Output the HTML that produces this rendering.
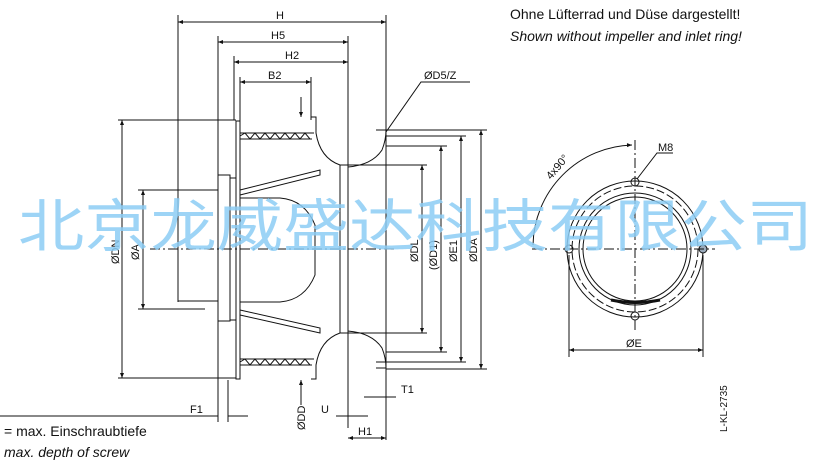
<!DOCTYPE html>
<html><head><meta charset="utf-8"><style>
body{margin:0;background:#fff;width:827px;height:464px;overflow:hidden}
svg{display:block}
text{font-family:"Liberation Sans","DejaVu Sans",sans-serif;fill:#111}
.d{font-family:"DejaVu Sans Condensed","DejaVu Sans",sans-serif;font-size:11px}
</style></head><body>
<svg width="827" height="464" viewBox="0 0 827 464" xmlns="http://www.w3.org/2000/svg">
<defs><marker id="a" viewBox="0 0 10 10" refX="10" refY="5" markerWidth="7" markerHeight="5" orient="auto-start-reverse"><path d="M0,1 L10,5 L0,9z" fill="#111"/></marker></defs>
<g stroke="#111" stroke-width="1" fill="none">
<!-- top dims -->
<line x1="178" y1="15" x2="178" y2="302"/><line x1="386" y1="15" x2="386" y2="440"/>
<line x1="178" y1="22" x2="386" y2="22" marker-start="url(#a)" marker-end="url(#a)"/>
<line x1="218" y1="36" x2="218" y2="422"/><line x1="348" y1="36" x2="348" y2="428"/>
<line x1="218" y1="42" x2="348" y2="42" marker-start="url(#a)" marker-end="url(#a)"/>
<line x1="234" y1="56" x2="234" y2="120"/>
<line x1="234" y1="62" x2="348" y2="62" marker-start="url(#a)" marker-end="url(#a)"/>
<line x1="240" y1="77" x2="240" y2="135"/><line x1="311" y1="77" x2="311" y2="120"/>
<line x1="240" y1="82" x2="311" y2="82" marker-start="url(#a)" marker-end="url(#a)"/>
<!-- fan body -->
<rect x="236" y="121" width="4" height="258"/>
<line x1="240" y1="133" x2="314" y2="133"/><line x1="240" y1="139" x2="312" y2="139"/>
<line x1="240" y1="359" x2="314" y2="359"/><line x1="240" y1="365" x2="312" y2="365"/>
<path d="M240,136 l5,-3 l5,6 l5,-6 l5,6 l5,-6 l5,6 l5,-6 l5,6 l5,-6 l5,6 l5,-6 l5,6 l5,-6 l5,6"/>
<path d="M240,362 l5,-3 l5,6 l5,-6 l5,6 l5,-6 l5,6 l5,-6 l5,6 l5,-6 l5,6 l5,-6 l5,6 l5,-6 l5,6"/>
<path d="M311,117 L316,117 L316,133 Q320,158 340,165 L348,165"/>
<path d="M311,379 L316,379 L316,365 Q320,340 340,333 L348,333"/>
<path d="M348,165 L348,333 M340,165 L340,333"/>
<path d="M348,167 Q372,165 382,150 Q386,140 386,130"/>
<path d="M348,331 Q372,333 382,348 Q386,358 386,368"/>
<line x1="376" y1="130" x2="386" y2="130"/><line x1="376" y1="368" x2="386" y2="368"/>
<!-- motor -->
<rect x="178" y="190" width="40" height="111"/>
<rect x="218" y="175" width="12" height="146"/>
<rect x="230" y="178" width="6" height="142"/>
<path d="M240,198 L280,198 Q305,200 315,225 L315,275 Q305,300 280,302 L240,302"/>
<path d="M240,190 L320,170 L320,175 L240,195"/><path d="M240,310 L320,328 L320,333 L240,315"/>
<path d="M240,190 L240,310"/>
<!-- left dims -->
<line x1="118" y1="120" x2="236" y2="120"/><line x1="118" y1="378" x2="236" y2="378"/>
<line x1="122" y1="120" x2="122" y2="378" marker-start="url(#a)" marker-end="url(#a)"/>
<line x1="138" y1="190" x2="178" y2="190"/><line x1="138" y1="309" x2="205" y2="309"/>
<line x1="143" y1="190" x2="143" y2="309" marker-start="url(#a)" marker-end="url(#a)"/>
<line x1="150" y1="249" x2="395" y2="249" stroke-dasharray="10,3,2,3"/>
<!-- right dims -->
<line x1="386" y1="130" x2="487" y2="130"/><line x1="386" y1="369" x2="487" y2="369"/>
<line x1="386" y1="136" x2="466" y2="136"/><line x1="376" y1="362" x2="466" y2="362"/>
<line x1="386" y1="146" x2="447" y2="146"/><line x1="386" y1="352" x2="447" y2="352"/>
<line x1="348" y1="165" x2="427" y2="165"/><line x1="348" y1="333" x2="427" y2="333"/>
<line x1="422" y1="165" x2="422" y2="333" marker-start="url(#a)" marker-end="url(#a)"/>
<line x1="441" y1="146" x2="441" y2="352" marker-start="url(#a)" marker-end="url(#a)"/>
<line x1="461" y1="136" x2="461" y2="362" marker-start="url(#a)" marker-end="url(#a)"/>
<line x1="481" y1="130" x2="481" y2="369" marker-start="url(#a)" marker-end="url(#a)"/>
<path d="M386,132 L421,82 L470,82"/>
<!-- bottom dims -->
<line x1="301" y1="97" x2="301" y2="117" marker-end="url(#a)"/>
<line x1="301" y1="405" x2="301" y2="380" marker-end="url(#a)"/>
<line x1="0" y1="416" x2="218" y2="416"/><line x1="228" y1="416" x2="248" y2="416"/><line x1="228" y1="380" x2="228" y2="422"/>
<line x1="336" y1="416" x2="368" y2="416"/>
<line x1="348" y1="438" x2="386" y2="438" marker-start="url(#a)" marker-end="url(#a)"/>
<line x1="364" y1="397" x2="396" y2="397"/>
<!-- right view -->
<circle cx="635" cy="249" r="68"/><circle cx="635" cy="249" r="63" stroke-dasharray="8,3"/>
<circle cx="635" cy="249" r="56"/><circle cx="635" cy="249" r="52"/>
<circle cx="635" cy="182" r="4"/><circle cx="635" cy="316" r="4"/><circle cx="569" cy="249" r="4"/><circle cx="703" cy="249" r="4" fill="#9ab"/>
<line x1="532" y1="249" x2="715" y2="249" stroke-dasharray="10,3,2,3"/>
<line x1="635" y1="140" x2="635" y2="330" stroke-dasharray="10,3,2,3"/>
<path d="M533,245 A102,102 0 0 1 632,145" marker-end="url(#a)"/>
<path d="M637,179 L657,153 L673,153"/>
<line x1="569" y1="255" x2="569" y2="357"/><line x1="703" y1="255" x2="703" y2="357"/>
<line x1="569" y1="350" x2="703" y2="350" marker-start="url(#a)" marker-end="url(#a)"/>
<path d="M611,300 Q635,305 660,300" stroke-width="3"/>
</g>
<g class="d">
<text x="276" y="19">H</text><text x="271" y="39">H5</text><text x="285" y="59">H2</text><text x="268" y="79">B2</text>
<text x="424" y="79">ØD5/Z</text><text x="401" y="393">T1</text><text x="190" y="413">F1</text><text x="321" y="413">U</text><text x="358" y="435">H1</text>
<text x="658" y="151">M8</text><text x="626" y="347">ØE</text>
<text transform="translate(119,264) rotate(-90)">ØDN</text><text transform="translate(139,260) rotate(-90)">ØA</text>
<text transform="translate(418,262) rotate(-90)">ØDL</text><text transform="translate(437,270) rotate(-90)">(ØD1)</text>
<text transform="translate(457,262) rotate(-90)">ØE1</text><text transform="translate(477,262) rotate(-90)">ØDA</text>
<text transform="translate(305,430) rotate(-90)">ØDD</text><text transform="translate(551,180) rotate(-50)">4x90°</text>
<text transform="translate(727,432) rotate(-90)" font-size="10">L-KL-2735</text>
</g>
<text x="510" y="19" font-size="14">Ohne Lüfterrad und Düse dargestellt!</text>
<text x="510" y="41" font-size="14" font-style="italic">Shown without impeller and inlet ring!</text>
<text x="4" y="436" font-size="14">= max. Einschraubtiefe</text>
<text x="4" y="457" font-size="14" font-style="italic">max. depth of screw</text>
<text x="18" y="246" font-size="57" style="font-family:'Noto Sans CJK SC',sans-serif;fill:#8ccdf5;opacity:0.85" textLength="795" lengthAdjust="spacingAndGlyphs">北京龙威盛达科技有限公司</text>
</svg>
</body></html>
